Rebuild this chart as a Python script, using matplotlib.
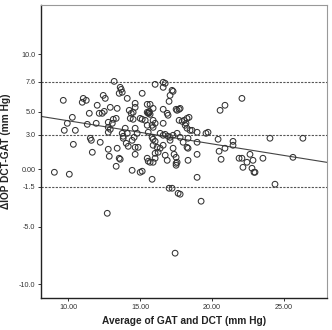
import matplotlib
matplotlib.use("Agg")
import matplotlib.pyplot as plt
import numpy as np

# ---- data ----
avg_x = [9.03, 10.07, 9.65, 9.72, 9.93, 10.28, 10.49, 10.35, 10.97, 11.04, 11.25, 11.32, 11.46, 11.60,
         11.67, 11.94, 12.01, 12.15, 12.36, 12.50, 12.22, 12.43, 12.57, 12.78, 12.85, 12.92, 12.78, 13.06,
         13.13, 12.78, 12.92, 12.78, 11.53, 13.19, 13.40, 13.40, 13.54, 13.33, 12.71, 13.61, 13.75, 13.54,
         13.61, 13.75, 13.82, 13.82, 14.03, 14.17, 13.96, 14.10, 14.10, 14.31, 14.51, 14.44, 14.65, 14.65,
         14.65, 14.51, 14.44, 14.65, 14.79, 15.00, 15.14, 15.14, 15.14, 15.35, 15.49, 15.69, 15.49, 15.56,
         15.63, 15.69, 15.56, 15.49, 15.83, 15.49, 15.56, 15.69, 15.90, 16.04, 15.83, 15.90, 15.90, 16.04,
         15.90, 15.83, 15.90, 16.04, 15.90, 16.18, 16.39, 16.60, 16.04, 16.25, 16.04, 16.60, 16.74, 16.60,
         17.22, 17.08, 17.01, 17.29, 16.60, 16.88, 16.94, 16.60, 16.39, 16.60, 16.74, 16.94, 17.29, 17.57,
         16.74, 16.88, 17.08, 17.29, 17.57, 17.01, 17.22, 17.64, 17.08, 17.50, 17.71, 17.57, 17.78, 17.71,
         17.92, 18.06, 18.26, 18.40, 18.13, 18.19, 18.26, 18.47, 18.61, 18.96, 19.58, 19.72, 18.33, 17.78,
         17.99, 18.26, 18.33, 18.96, 18.33, 18.96, 18.96, 17.36, 17.50, 17.50, 17.50, 17.43, 17.78, 19.24,
         20.42, 20.49, 20.63, 20.90, 21.46, 21.46, 21.88, 20.56, 20.90, 22.08, 22.08, 22.15, 22.43, 22.64,
         22.85, 22.78, 22.92, 22.99, 23.54, 24.03, 26.32, 25.63, 24.38,
         13.33, 14.24, 14.38, 14.58, 14.65, 14.86, 15.00, 13.68, 15.58, 15.62]
diff_y = [-0.26, -0.43, 6.00, 3.39, 4.00, 4.52, 3.39, 2.17, 5.83, 6.17, 6.00, 3.91, 4.87, 2.52,
          1.48, 4.00, 5.57, 4.87, 4.87, 5.04, 2.35, 6.43, 6.17, 1.74, 1.13, 5.39, 4.09, 4.00,
          4.35, 3.65, 3.48, 3.22, 2.70, 7.65, 5.30, 1.83, 0.96, 0.26, -3.83, 7.13, 6.70, 6.61,
          0.87, 3.13, 2.87, 2.70, 2.26, 2.00, 3.57, 3.13, 6.17, 4.43, 4.35, 2.52, 1.91, 5.74,
          5.39, 4.96, -0.09, 3.57, 3.13, -0.26, -0.17, 6.61, 4.35, 4.26, 5.65, 5.65, 4.96, 4.87,
          5.04, 4.78, 3.22, 3.83, 3.83, 0.96, 0.70, 0.61, 0.61, 0.96, -0.87, 5.30, 4.26, 4.00,
          3.65, 2.78, 2.61, 2.43, 2.09, 1.91, 1.83, 2.09, 1.39, 1.48, 7.39, 7.57, 7.48, 7.13,
          6.87, 6.43, 5.91, 6.78, 5.22, 4.87, 4.70, 4.00, 3.13, 2.96, 3.04, 2.87, 2.96, 3.13,
          1.22, 0.78, 2.52, 1.83, 0.61, -1.65, -1.65, -2.09, 2.78, 5.22, 5.22, 5.13, 5.30, 4.26,
          4.17, 4.26, 4.43, 4.52, 3.83, 4.00, 3.57, 3.39, 3.39, 3.22, 3.13, 3.22, 2.70, 2.78,
          2.35, 1.91, 1.83, 2.35, 0.78, 1.30, -0.70, 1.30, 1.04, 0.52, 0.35, -7.30, -2.17, -2.78,
          2.61, 1.57, 0.87, 1.83, 2.43, 2.09, 0.96, 5.13, 5.57, 6.17, 0.96, 0.17, 0.61, 1.30,
          0.78, 0.09, -0.26, -0.26, 0.96, 2.70, 2.70, 1.04, -1.30,
          4.43, 5.13, 4.87, 2.78, 1.30, 1.91, 4.43, 6.95, 4.92, 4.90]

ref_lines = [7.6, 3.0, -1.5]            # upper LoA, mean, lower LoA
fit_intercept = 6.23                     # regression line
fit_slope = -0.201

y_ticks = [10.0, 7.6, 5.0, 3.0, 0.0, -1.5, -5.0, -10.0]
y_tick_labels = ["10.0", "7.6", "5.0", "3.0", "0.00", "-1.5", "-5.0", "-10.0"]
x_ticks = [10, 15, 20, 25]
x_tick_labels = ["10.00", "15.00", "20.00", "25.00"]

x_label = "Average of GAT and DCT (mm Hg)"
y_label = "ΔIOP DCT-GAT (mm Hg)"

# ---- figure ----
plt.rcParams['font.family'] = ['Liberation Sans', 'DejaVu Sans']
fig = plt.figure(figsize=(3.32, 3.30), dpi=100)
ax = fig.add_axes([0.1235, 0.097, 0.985 - 0.1235, 0.985 - 0.097])

xlim = (8.1, 28.0)
ylim = (-11.2, 14.3)
ax.set_xlim(*xlim)
ax.set_ylim(*ylim)

for yv in ref_lines:
    ax.axhline(yv, color='#555555', lw=0.8, linestyle=(0, (2.0, 1.2)), zorder=1)

xs = np.array(xlim)
ax.plot(xs, fit_intercept + fit_slope * xs, color='#444444', lw=0.8, zorder=2)

ax.scatter(avg_x, diff_y, s=17, facecolors='none', edgecolors='#333333', linewidths=0.75, zorder=3)

ax.set_yticks(y_ticks)
ax.set_yticklabels(y_tick_labels)
ax.set_xticks(x_ticks)
ax.set_xticklabels(x_tick_labels)
ax.tick_params(axis='both', labelsize=5.2, length=2.5, width=0.7, colors='#333333', pad=1.5)

for side in ['top', 'right']:
    ax.spines[side].set_color('#999999')
    ax.spines[side].set_linewidth(0.8)
for side in ['left', 'bottom']:
    ax.spines[side].set_color('#222222')
    ax.spines[side].set_linewidth(1.0)

ax.set_xlabel(x_label, fontsize=7.3, fontweight='bold', color='#222222', labelpad=4)
ax.set_ylabel(y_label, fontsize=7.3, fontweight='bold', color='#222222', labelpad=6)

fig.savefig("out.png", dpi=100)
